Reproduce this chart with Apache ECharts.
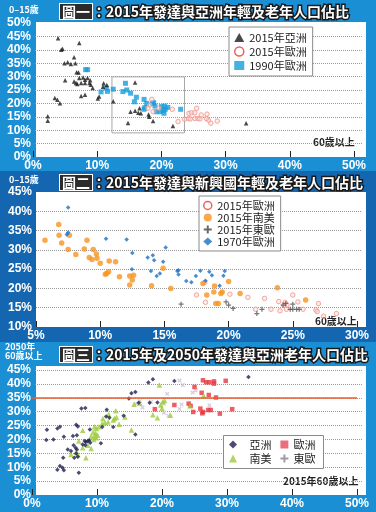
<!DOCTYPE html>
<html><head><meta charset="utf-8">
<script src="https://cdn.jsdelivr.net/npm/echarts@6/dist/echarts.min.js"></script>
<style>html,body{margin:0;padding:0;background:#1b8fd3}#c{width:376px;height:512px}</style>
</head><body><div id="c"></div>
<script>
const FONT = "'Noto Sans CJK TC','Noto Sans',sans-serif";

// ===== 圖一 : x = 60歲以上 %, y = 0–15歲 %
const asia2015 = [[3.9,44.3],[7.2,42.5],[4.6,40.4],[4.4,40.0],[6.4,37.2],[4.9,35.0],[5.4,35.4],[5.9,34.7],[6.6,35.0],[6.8,31.6],[7.1,31.5],[5.0,28.6],[6.4,28.2],[6.7,27.6],[7.2,29.5],[7.8,29.7],[8.1,28.8],[8.5,29.5],[8.9,28.6],[6.9,27.2],[7.5,27.6],[8.1,27.6],[8.8,27.6],[9.0,27.0],[9.3,25.7],[3.4,22.0],[3.8,21.4],[4.2,20.1],[7.5,22.8],[8.1,23.2],[10.1,21.8],[10.3,22.6],[11.0,27.5],[11.5,26.9],[10.9,26.2],[12.5,20.8],[2.3,15.2],[2.3,13.5],[15.9,27.8],[14.8,12.7],[15.2,16.9],[15.9,17.3],[16.4,16.5],[16.6,18.2],[16.8,16.3],[18.0,15.9],[18.1,15.0],[18.7,13.4],[21.8,11.6],[33.2,12.6]];
const europe2015 = [[18.5,21.5],[18.2,19.4],[17.9,18.2],[18.7,16.9],[19.6,18.2],[21.7,17.8],[22.6,13.2],[24.3,16.3],[24.7,16.5],[25.2,16.5],[25.5,18.2],[24.2,14.4],[24.5,14.2],[25.2,14.4],[25.7,14.4],[26.0,14.2],[23.6,14.1],[27.1,16.0],[27.3,13.8],[27.0,14.4],[27.7,12.6],[28.7,13.4],[26.2,15.7]];
const europe1990 = [[8.2,32.6],[8.5,32.6],[10.6,24.3],[11.4,25.7],[11.6,24.5],[12.5,25.3],[14.4,27.5],[14.0,24.4],[14.6,25.0],[15.2,23.8],[16.1,22.3],[17.3,21.5],[17.7,20.0],[15.8,20.6],[17.4,18.4],[17.3,17.8],[18.6,20.0],[18.8,20.3],[19.0,19.0],[19.2,16.9],[19.8,16.9],[20.3,17.3],[20.0,18.8],[20.5,19.0],[21.0,18.5],[20.4,16.3],[20.6,17.8],[23.0,17.8]];
const zoomBox = [[12.3,29.9],[23.6,9.0]];

// ===== 圖二 : x = 60歲以上 %, y = 0–15歲 %
const europe2015b = [[18.15,21.6],[17.5,18.3],[20.1,18.5],[18.2,16.4],[21.5,17.7],[22.8,17.4],[23.9,16.6],[25.0,18.3],[24.4,16.4],[24.55,15.7],[24.3,15.6],[25.4,16.5],[27.0,16.1],[22.1,14.6],[23.3,14.6],[24.0,14.2],[24.5,14.6],[26.8,14.4],[26.9,14.0],[27.4,12.8],[28.4,13.5],[25.8,14.6]];
const southAmerica2015 = [[6.77,36.6],[6.8,33.8],[7.6,33.8],[5.7,32.5],[8.97,32.5],[7.0,31.8],[7.5,30.1],[8.76,30.2],[9.46,30.1],[8.1,28.8],[9.7,28.9],[9.15,28.0],[9.36,27.5],[9.75,27.8],[10.0,26.5],[10.7,27.1],[11.2,26.9],[10.5,23.9],[10.65,24.3],[10.4,23.7],[11.5,23.0],[12.3,23.2],[12.6,23.4],[12.5,22.2],[12.3,20.9],[14.0,20.7],[14.9,25.2],[15.5,20.0],[18.0,21.3],[18.3,18.3],[18.9,20.6],[18.85,19.1],[19.5,19.1],[19.4,18.7],[20.0,21.8],[20.9,18.7],[19.2,16.1],[19.0,16.1],[23.8,20.2],[26.0,17.0]];
const eastEurope2015 = [[16.3,15.9],[19.8,16.5],[20.0,15.7],[20.35,14.8],[22.2,13.5],[22.6,14.6],[24.25,15.7],[24.45,16.1],[25.0,15.9],[24.8,14.6],[25.0,14.6],[25.3,14.6],[25.5,14.6]];
const europe1970 = [[7.5,41.0],[7.5,34.5],[7.4,34.0],[10.45,32.9],[12.06,32.7],[12.5,29.2],[15.1,30.6],[13.7,28.0],[14.1,28.6],[14.2,27.3],[14.9,26.9],[12.47,25.0],[13.95,24.5],[14.65,23.9],[14.4,23.2],[16.1,24.7],[16.0,24.5],[16.1,23.6],[16.7,21.9],[17.1,21.6],[17.45,23.2],[17.8,24.6],[18.5,24.3],[18.7,23.4],[18.2,22.0],[19.3,20.7],[19.6,23.3],[19.7,24.5]];

// ===== 圖三 : x = 2015年60歲以上 %, y = 2050年60歲以上 %
const asia = [[33.3,42.5],[21.9,41.0],[18.6,41.7],[17.9,40.5],[15.9,37.1],[15.3,36.6],[14.9,34.7],[18.1,33.2],[19.3,33.3],[16.4,33.2],[7.6,31.1],[8.2,31.3],[11.5,30.7],[14.1,28.5],[11.4,28.3],[11.9,27.8],[12.5,24.5],[15.9,21.8],[10.8,24.5],[10.6,18.6],[6.8,25.3],[7.05,24.7],[2.3,23.5],[3.9,23.9],[4.3,24.6],[2.2,19.8],[3.3,20.0],[4.9,21.0],[6.3,21.2],[6.9,21.5],[8.9,23.6],[8.1,19.4],[8.3,19.1],[8.6,19.4],[8.8,19.7],[8.95,18.8],[7.8,18.2],[8.2,17.9],[6.4,17.9],[6.7,17.0],[6.9,16.4],[5.5,16.4],[6.0,15.8],[6.8,14.9],[6.5,13.4],[7.05,13.8],[4.8,13.4],[4.3,10.4],[4.7,9.8],[3.9,9.1],[4.9,8.9],[7.2,8.0]];
const europe = [[26.3,41.3],[26.8,40.6],[27.3,40.6],[28.0,40.9],[28.0,40.1],[29.8,41.1],[25.0,38.9],[26.1,36.8],[27.2,36.0],[28.3,35.1],[21.9,32.4],[24.1,32.9],[24.4,32.1],[18.9,30.9],[25.9,31.1],[27.1,30.6],[27.5,30.6],[24.8,29.9],[26.3,29.9],[26.2,29.4],[28.9,29.3],[30.8,30.9]];
const southAmerica = [[19.6,39.6],[26.4,35.8],[15.7,32.7],[16.6,33.0],[20.1,33.6],[20.4,34.0],[19.8,32.4],[20.0,31.2],[18.6,28.9],[19.3,27.8],[21.3,28.7],[24.3,32.1],[12.9,30.3],[11.8,29.1],[12.7,27.5],[12.5,27.0],[13.0,28.0],[14.3,28.1],[10.9,27.5],[11.2,26.1],[11.7,26.3],[10.8,25.7],[13.4,25.5],[10.3,24.6],[9.9,23.9],[9.6,24.6],[15.3,23.4],[7.8,23.3],[9.4,22.7],[9.8,22.2],[10.1,21.5],[9.6,21.2],[9.1,21.2],[9.9,20.6],[9.5,20.0],[7.2,19.4],[8.6,17.9],[7.8,17.0],[9.1,16.7],[6.0,14.6],[7.05,14.6],[6.8,15.5],[8.3,13.4]];
const eastEurope = [[22.7,41.2],[23.2,39.6],[20.8,36.4],[24.7,36.9],[25.2,37.6],[16.6,33.8],[16.0,32.8],[23.0,32.6],[22.7,31.0],[20.3,29.6],[21.0,28.5],[27.3,32.3],[18.3,33.5],[17.0,31.5],[20.3,32.8]];
const threshold = 35;

const legendText = {a1:'2015年亞洲', e1:'2015年歐洲', b1:'1990年歐洲',
  e2:'2015年歐洲', s2:'2015年南美', x2:'2015年東歐', b2:'1970年歐洲',
  a3:'   亞洲', s3:'   南美', e3:'歐洲', x3:'東歐'};

const BLUE1 = '#1b8fd3', BLUE2 = '#1466b0';
const PLUS = 'path://M3,0H5V3H8V5H5V8H3V5H0V3H3Z';
const pct = v => v + '%';
const yLab = {color:'#fff', fontWeight:'bold', fontSize:12, fontFamily:'Liberation Sans', margin:4, formatter:pct};
const xLab = {color:'#fff', fontWeight:'bold', fontSize:12, fontFamily:'Liberation Sans', margin:3, formatter:pct};
const split = (minL, maxL) => ({show:true, showMinLine:minL, showMaxLine:maxL, lineStyle:{type:'dotted', color:'#9a9a9a', width:1}});
const hiddenX = g => ({gridIndex:g, type:'value', show:false, min:0, max:1});
const dataX = (g, min, max, itv) => ({gridIndex:g, type:'value', min, max, interval:itv,
  axisLabel:xLab, axisLine:{show:false}, axisTick:{show:true, inside:true, length:6, lineStyle:{color:'#222', width:1}}, splitLine:{show:false}});
const bgY = (g, min, max, maxLine) => ({gridIndex:g, type:'value', min, max, interval:5, axisLabel:yLab,
  axisLine:{show:false}, axisTick:{show:false}, splitLine:split(false, maxLine)});
const hidY = (g, min, max) => ({gridIndex:g, type:'value', show:false, min, max, splitLine:{show:false}});

const sc = (name, data, xi, opts) => Object.assign({type:'scatter', name, data, xAxisIndex:xi, yAxisIndex:xi}, opts);

const legendBase = {selectedMode:false, backgroundColor:'#fff', borderColor:'#8a8a8a', borderWidth:1,
  orient:'vertical', formatter: n => legendText[n],
  textStyle:{fontSize:11, color:'#222', fontFamily:FONT}};
const legendRow3 = {selectedMode:false, orient:'horizontal', formatter: n => legendText[n],
  padding:0, itemWidth:8, itemHeight:8, itemGap:9, textStyle:{fontSize:11, color:'#222', fontFamily:FONT}};

const titleStyle = {fontSize:14, fontWeight:'bold', color:'#fff', fontFamily:FONT,
  textBorderColor:'#1a1a1a', textBorderWidth:3,
  rich:{b:{fontSize:14, fontWeight:'bold', color:'#fff', fontFamily:FONT, backgroundColor:'#2b2b2b',
    borderColor:'#fff', borderWidth:1, padding:[1,2,0,2], textBorderWidth:0}}};

const chart = echarts.init(document.getElementById('c'), null, {renderer:'canvas'});
chart.setOption({
  backgroundColor: BLUE1,
  animation:false,
  title:[
    {text:'{b|圖一}：2015年發達與亞洲年輕及老年人口佔比', left:60, top:4, padding:0, textStyle:titleStyle},
    {text:'{b|圖二}：2015年發達與新興國年輕及老年人口佔比', left:60, top:175, padding:0, textStyle:titleStyle},
    {text:'{b|圖三}：2015年及2050年發達與亞洲老年人口佔比', left:60, top:347, padding:0, textStyle:titleStyle}
  ],
  grid:[
    {left:35, right:14, top:23, bottom:355},
    {left:33, right:22, top:23, bottom:355},
    {left:36, right:14, top:192, bottom:185},
    {left:36, right:19, top:192, bottom:185},
    {left:35, right:14, top:370, bottom:17},
    {left:32, right:19, top:370, bottom:17}
  ],
  xAxis:[hiddenX(0), dataX(1,0,50,10), hiddenX(2), dataX(3,5,30,5), hiddenX(4), dataX(5,0,50,10)],
  yAxis:[bgY(0,0,50,false), hidY(1,0,50), bgY(2,10,45,false), hidY(3,10,45), bgY(4,0,45,true), hidY(5,0,45)],
  legend:[
    Object.assign({}, legendBase, {left:229, top:27, padding:[5,6,5,5], itemWidth:10, itemHeight:9, itemGap:3,
      data:[{name:'a1', icon:'triangle', itemStyle:{color:'#1a1a1a'}},
            {name:'e1', icon:'circle', itemStyle:{color:'#fff', borderColor:'#e53935', borderWidth:1.5}},
            {name:'b1', icon:'rect', itemStyle:{color:'#159ddb'}}]}),
    Object.assign({}, legendBase, {left:199, top:196, padding:[4,6,4,4], itemWidth:9, itemHeight:8, itemGap:1,
      data:[{name:'e2', icon:'circle', itemStyle:{color:'#fff', borderColor:'#e53935', borderWidth:1.5}},
            {name:'s2', icon:'circle', itemStyle:{color:'#f7931e'}},
            {name:'x2', icon:PLUS, itemStyle:{color:'#444'}},
            {name:'b2', icon:'diamond', itemStyle:{color:'#1b6fc2'}}]}),
    Object.assign({}, legendRow3, {left:229, top:439,
      data:[{name:'a3', icon:'diamond', itemStyle:{color:'#1e1e50'}},
            {name:'e3', icon:'rect', itemStyle:{color:'#e94a5a'}}]}),
    Object.assign({}, legendRow3, {left:229, top:453,
      data:[{name:'s3', icon:'triangle', itemStyle:{color:'#9ccb3b'}},
            {name:'x3', icon:PLUS, itemStyle:{color:'#8a7f90'}}]})
  ],
  series:[
    sc('b1', europe1990, 1, {symbol:'rect', symbolSize:5, itemStyle:{color:'#159ddb'},
      markArea:{silent:true, itemStyle:{color:'rgba(0,0,0,0)', borderColor:'#a8a8a8', borderWidth:1},
        data:[[{coord:zoomBox[0]},{coord:zoomBox[1]}]]}}),
    sc('e1', europe2015, 1, {symbol:'circle', symbolSize:4.5, itemStyle:{color:'rgba(250,215,210,0.6)', borderColor:'#f0948a', borderWidth:1}}),
    sc('a1', asia2015, 1, {symbol:'triangle', symbolSize:4.5, itemStyle:{color:'#1a1a1a'}}),

    sc('e2', europe2015b, 3, {symbol:'circle', symbolSize:4.5, itemStyle:{color:'rgba(250,215,210,0.6)', borderColor:'#f0948a', borderWidth:1}}),
    sc('s2', southAmerica2015, 3, {symbol:'circle', symbolSize:5.5, itemStyle:{color:'#f7931e'}}),
    sc('x2', eastEurope2015, 3, {symbol:PLUS, symbolSize:5, itemStyle:{color:'#555'}}),
    sc('b2', europe1970, 3, {symbol:'diamond', symbolSize:4.5, itemStyle:{color:'#1b6fc2'}}),

    sc('x3', eastEurope, 5, {symbol:PLUS, symbolSize:5, symbolRotate:45, itemStyle:{color:'#cdbfd6'}}),
    sc('e3', europe, 5, {symbol:'rect', symbolSize:4.5, itemStyle:{color:'#e8343f'},
      markLine:{silent:true, symbol:'none', label:{show:false}, lineStyle:{color:'#ec5a2c', width:1.5, type:'solid'},
        data:[{yAxis:threshold}]}}),
    sc('s3', southAmerica, 5, {symbol:'triangle', symbolSize:5.5, itemStyle:{color:'#9ccb3b'}}),
    sc('a3', asia, 5, {symbol:'diamond', symbolSize:4.5, itemStyle:{color:'#1e1e50'}})
  ],
  graphic:[
    {type:'rect', z:-100, silent:true, shape:{x:0,y:171,width:376,height:171}, style:{fill:BLUE2}},
    {type:'rect', z:-90, silent:true, shape:{x:36,y:22,width:330,height:135}, style:{fill:'#fff'}},
    {type:'rect', z:-90, silent:true, shape:{x:36,y:192,width:330,height:135}, style:{fill:'#fff'}},
    {type:'rect', z:-90, silent:true, shape:{x:36,y:366,width:330,height:129}, style:{fill:'#fff'}},
    {type:'rect', z:3, silent:true, shape:{x:223.5,y:435.5,width:100,height:33}, style:{fill:'#fff', stroke:'#8a8a8a', lineWidth:1}},
    {type:'text', left:9, top:5, style:{text:'0–15歲', fill:'#fff', font:'bold 9px '+FONT}},
    {type:'text', left:9, top:175, style:{text:'0–15歲', fill:'#fff', font:'bold 9px '+FONT}},
    {type:'text', left:5, top:342, style:{text:'2050年\n60歲以上', fill:'#fff', font:'bold 9px '+FONT, align:'center', lineHeight:9, x:21}},
    {type:'text', left:313, top:137, style:{text:'60歲以上', fill:'#222', font:'bold 10px '+FONT}},
    {type:'text', left:315, top:316, style:{text:'60歲以上', fill:'#222', font:'bold 10px '+FONT}},
    {type:'text', left:283, top:476, style:{text:'2015年60歲以上', fill:'#222', font:'bold 10px '+FONT}}
  ]
});
</script></body></html>
